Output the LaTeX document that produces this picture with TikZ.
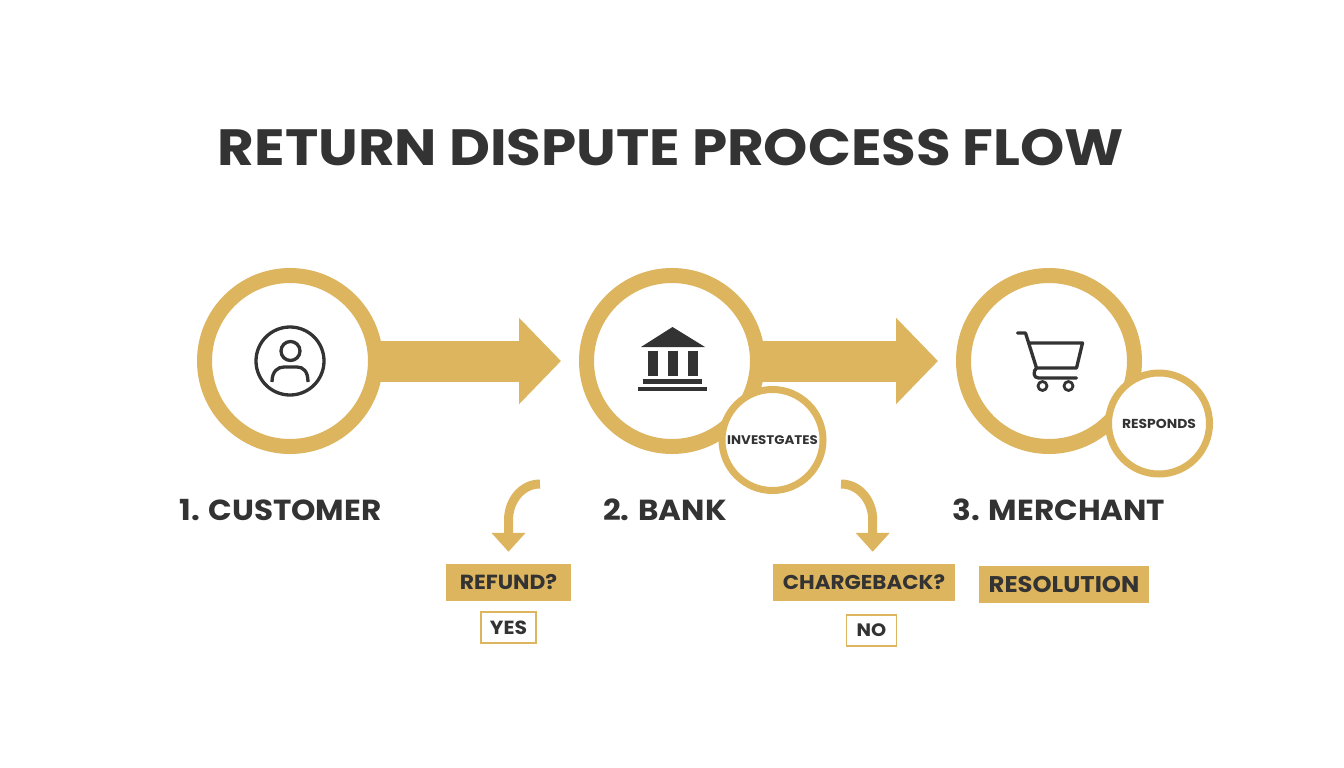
\documentclass[tikz,border=0pt]{standalone}
\usepackage{fontspec}
\setmainfont{Poppins}[FakeStretch=1.07]
\newfontfamily\titlefont{Poppins}[FakeStretch=1.105]
\usetikzlibrary{positioning,arrows.meta}
\definecolor{gold}{HTML}{DDB55F}
\definecolor{ink}{HTML}{333333}
\tikzset{
  bigring/.style={circle,draw=gold,fill=white,line width=15pt,minimum size=171pt,inner sep=0pt},
  smallring/.style={circle,draw=gold,fill=white,line width=7pt,minimum size=101pt,inner sep=0pt,
    text=ink,font=\bfseries\fontsize{#1}{#1}\selectfont},
  steplabel/.style={inner sep=0pt,text=ink,font=\bfseries\fontsize{29}{29}\selectfont},
  flowarrow/.style={draw=gold,line width=41pt,-{Triangle[length=42pt,width=84pt]},shorten <=-8pt},
  curvearrow/.style={draw=gold,line width=9pt,-{Triangle[length=19pt,width=33pt]}},
  goldbox/.style={fill=gold,inner sep=0pt,text=ink,font=\bfseries\fontsize{#1}{#1}\selectfont,
    minimum height=37pt},
  answerbox/.style={draw=gold,fill=white,line width=1.4pt,inner sep=0pt,text=ink,
    font=\bfseries\fontsize{#1}{#1}\selectfont,minimum height=31pt},
  icon/.style={draw=ink,line width=3.3pt},
}

\begin{document}
\begin{tikzpicture}[x=1pt,y=1pt]
  \useasboundingbox (0,0) rectangle (1344,-768);

  \node[text=ink,font=\titlefont\bfseries\fontsize{51}{51}\selectfont] (title) at (671,-147.5) {RETURN DISPUTE PROCESS FLOW};

  % main circles
  \node[bigring] (customer) at (290,-361) {};
  \node[bigring,right=196pt of customer] (bank) {};
  \node[bigring,right=191pt of bank] (merchant) {};

  % flow arrows
  \coordinate[right=178pt of customer] (tip1);
  \coordinate[right=173pt of bank] (tip2);
  \draw[flowarrow] (customer.east) -- (tip1);
  \draw[flowarrow] (bank.east) -- (tip2);

  \node[smallring=12.5] (investigates) at (772.5,-440) {INVESTGATES};
  \node[smallring=13] (responds) at (1159,-423.5) {RESPONDS};

  % step labels
  \node[steplabel,below=45pt of customer,xshift=-9.5pt] (label1) {1. CUSTOMER};
  \node[steplabel,below=45pt of bank,xshift=-7pt] (label2) {2. BANK};
  \node[steplabel,below=45pt of merchant,xshift=10pt] (label3) {3. MERCHANT};

  % boxes
  \node[goldbox=20.4,minimum width=125pt] (refund) at (508.5,-582.5) {REFUND?};
  \node[goldbox=20,minimum width=182pt] (chargeback) at (864,-582.5) {CHARGEBACK?};
  \node[goldbox=22.7,minimum width=170pt] (resolution) at (1064,-584.5) {RESOLUTION};
  \node[answerbox=19,minimum width=55pt,below=10pt of refund] (yes) {YES};
  \node[answerbox=18,minimum width=50pt,below=13pt of chargeback,xshift=7.5pt] (no) {NO};

  % curved arrows
  \coordinate (from1) at (540,-484);
  \coordinate (from2) at (841,-484);
  \draw[curvearrow,shorten >=12pt] (from1) to[out=180,in=90] ++(-31.5,-36) -- (refund.north);
  \draw[curvearrow,shorten >=12pt] (from2) to[out=0,in=90] ++(31.7,-36) -- ([xshift=8.7pt]chargeback.north);

  % person
  \begin{scope}[shift={(customer.center)}]
    \draw[icon] (0,0) circle (34pt);
    \draw[icon] (0.5,10) circle (9.5pt);
    \draw[icon] (-18,-21) .. controls (-18,-10) and (-12,-6) .. (-6,-6) -- (7,-6)
      .. controls (13,-6) and (18,-10) .. (18,-21);
  \end{scope}

  % bank building
  \begin{scope}[shift={(bank.center)}]
    \fill[ink] (0.5,34) -- (33,14) -- (-31,14) -- cycle;
    \foreach \xcol in {-24,-4,16} {
      \fill[ink] (\xcol,10) rectangle ++(9.5,-25);
    }
    \fill[ink] (-29,-18) rectangle (30,-23);
    \fill[ink] (-34,-26) rectangle (35,-30);
  \end{scope}

  % cart
  \begin{scope}[shift={(merchant.center)},line join=round,line cap=round]
    \draw[icon] (-31.5,28) -- (-23.5,28) -- (-12.5,-7) -- (27.5,-7) -- (33.5,18) -- (-20.5,18);
    \draw[icon] (-12.5,-7) .. controls (-16,-10) and (-16,-17) .. (-10.5,-17) -- (27.5,-17);
    \draw[icon,line width=2.8pt] (-6.5,-25) circle (4.5pt);
    \draw[icon,line width=2.8pt] (19.5,-25) circle (4.5pt);
  \end{scope}
\end{tikzpicture}
\end{document}
